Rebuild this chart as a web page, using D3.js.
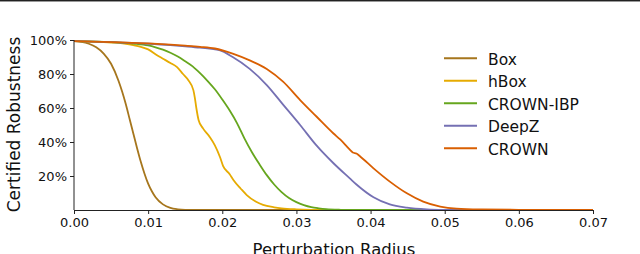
<!DOCTYPE html>
<html>
<head>
<meta charset="utf-8">
<script src="https://cdn.jsdelivr.net/npm/d3@7"></script>
<style>
html,body{margin:0;padding:0;background:#fff;}
svg{display:block;font-family:"DejaVu Sans",sans-serif;}
</style>
</head>
<body>
<svg id="chart" width="640" height="254"></svg>
<script>
// Data (radius in units of 1e-3, robustness in %)
const seriesNames = ["Box", "hBox", "CROWN-IBP", "DeepZ", "CROWN"];
const seriesColors = ["#a6761d", "#e6ab02", "#66a61e", "#7570b3", "#d95f02"];

const boxX = [0, 1, 2, 3, 4, 5, 6, 6.5, 7, 7.5, 8, 8.5, 9, 9.5, 10, 10.5, 11, 12, 13, 14, 15, 17, 70];
const boxY = [99.3, 98.9, 97.8, 95.7, 92, 86, 76, 69.5, 62, 53.5, 45, 36.5, 28.5, 21.5, 15.5, 11, 7.5, 3.3, 1.2, 0.4, 0.1, 0, 0];

const hboxX = [0, 2, 4, 6, 7, 8, 9, 10, 11.2, 12, 13, 13.9, 14.7, 15.4, 16.1, 16.3, 16.5, 16.8, 17.4, 18.3, 19, 19.7, 20.1, 21, 21.5, 22.5, 23.3, 24.5, 25.5, 27, 28, 30, 32, 34, 70];
const hboxY = [99.3, 99, 98.7, 98.3, 97.8, 97, 96, 94.5, 91, 89, 86.5, 84, 80, 76.5, 70.5, 66, 60, 53, 48, 43, 38, 31, 26, 21, 17.6, 12.5, 8.8, 5, 3, 1.6, 1, 0.4, 0.1, 0, 0];

const ibpX = [0, 4, 8, 10, 11, 12, 13, 14, 15, 16, 17, 18, 19, 20, 21, 22, 23, 24, 25, 26, 27, 28, 29, 30, 31, 32, 33, 34, 36, 38, 70];
const ibpY = [99.3, 98.9, 97.9, 96.8, 95.7, 94.3, 92.5, 90.3, 87.5, 84.5, 80.5, 76, 71, 65, 58.5, 51, 42, 34, 27, 20.5, 15, 10.5, 7, 4.6, 2.9, 1.7, 1, 0.5, 0.12, 0, 0];

const deepzX = [0, 5, 10, 13, 15, 17, 19.6, 21.4, 23.7, 26, 28.2, 30.5, 32.7, 35, 37.2, 38.1, 40.4, 42.6, 44.9, 47.6, 50, 53, 70];
const deepzY = [99.3, 98.7, 97.8, 97, 96.3, 95.5, 94, 90, 83, 73.5, 62, 50, 38, 27.5, 18.6, 15, 7.5, 3.3, 1.4, 0.4, 0.1, 0, 0];

const crownX = [0, 5, 10, 13, 15, 17, 19, 21.4, 23.7, 26, 28.2, 30.5, 32.7, 35, 35.9, 37.2, 37.6, 38.1, 38.6, 40.4, 42.6, 44.9, 47.1, 49.4, 51.6, 55, 60, 65, 70];
const crownY = [99.3, 98.8, 98, 97.3, 96.7, 96, 95, 92, 88, 83, 75.5, 64.7, 55, 45, 41.5, 35.5, 33.8, 33.2, 31.5, 24.5, 16.7, 9.8, 4.9, 2, 0.8, 0.3, 0.1, 0.05, 0];

const xTicks = [0, 0.01, 0.02, 0.03, 0.04, 0.05, 0.06, 0.07];
const yTicks = [20, 40, 60, 80, 100];
const xTitle = "Perturbation Radius";
const yTitle = "Certified Robustness";

const seriesX = [boxX, hboxX, ibpX, deepzX, crownX];
const seriesY = [boxY, hboxY, ibpY, deepzY, crownY];

const svg = d3.select("#chart");

// top border line (from source image)
svg.append("rect").attr("x", 0).attr("y", 0).attr("width", 640).attr("height", 1).attr("fill", "#222");
svg.append("rect").attr("x", 0).attr("y", 1).attr("width", 640).attr("height", 1).attr("fill", "#999");

const x = d3.scaleLinear().domain([0, 0.07]).range([74, 593]);
const y = d3.scaleLinear().domain([0, 100]).range([210, 40]);

const line = d3.line()
  .x(d => x(d[0] / 1000))
  .y(d => y(d[1]))
  .curve(d3.curveMonotoneX);

const data = seriesNames.map((name, i) => ({
  name, color: seriesColors[i],
  pts: seriesX[i].map((v, j) => [v, seriesY[i][j]])
}));

svg.append("g").selectAll("path").data(data).join("path")
  .attr("d", d => line(d.pts))
  .attr("fill", "none")
  .attr("stroke", d => d.color)
  .attr("stroke-width", 1.8)
  .attr("stroke-linejoin", "round");

// axes
const xAxis = d3.axisBottom(x).tickValues(xTicks).tickFormat(d3.format(".2f")).tickSize(4).tickPadding(4);
const yAxis = d3.axisLeft(y).tickValues(yTicks).tickFormat(d => d + "%").tickSize(4).tickPadding(3);

const gx = svg.append("g").attr("transform", "translate(0,210)").call(xAxis);
const gy = svg.append("g").attr("transform", "translate(74,0)").call(yAxis);
[gx, gy].forEach(g => {
  g.select(".domain").attr("stroke", "#222").attr("stroke-width", 1);
  g.selectAll(".tick line").attr("stroke", "#222").attr("stroke-width", 1);
  g.selectAll(".tick text").attr("fill", "#111").style("font-family", "DejaVu Sans").style("font-size", "13px");
});
gx.select(".domain").attr("d", "M74,0.5H593");
gy.select(".domain").attr("d", "M0.5,210H0.5V40").attr("transform", "translate(-0.5,0)");

// titles
svg.append("text")
  .attr("x", 334).attr("y", 255)
  .attr("text-anchor", "middle")
  .style("font-size", "16.5px").attr("fill", "#111")
  .text(xTitle);
svg.append("text")
  .attr("transform", "translate(20,124.5) rotate(-90)")
  .attr("text-anchor", "middle")
  .style("font-size", "17px").attr("fill", "#111")
  .text(yTitle);

// legend
const lg = svg.append("g");
const rowH = 22.5;
data.forEach((d, i) => {
  const cy = 58.3 + i * rowH;
  lg.append("line").attr("x1", 444).attr("x2", 477).attr("y1", cy).attr("y2", cy)
    .attr("stroke", d.color).attr("stroke-width", 2);
  lg.append("text").attr("x", 488).attr("y", cy + 6.5)
    .style("font-size", "15.5px").attr("fill", "#111").text(d.name);
});
</script>
</body>
</html>
